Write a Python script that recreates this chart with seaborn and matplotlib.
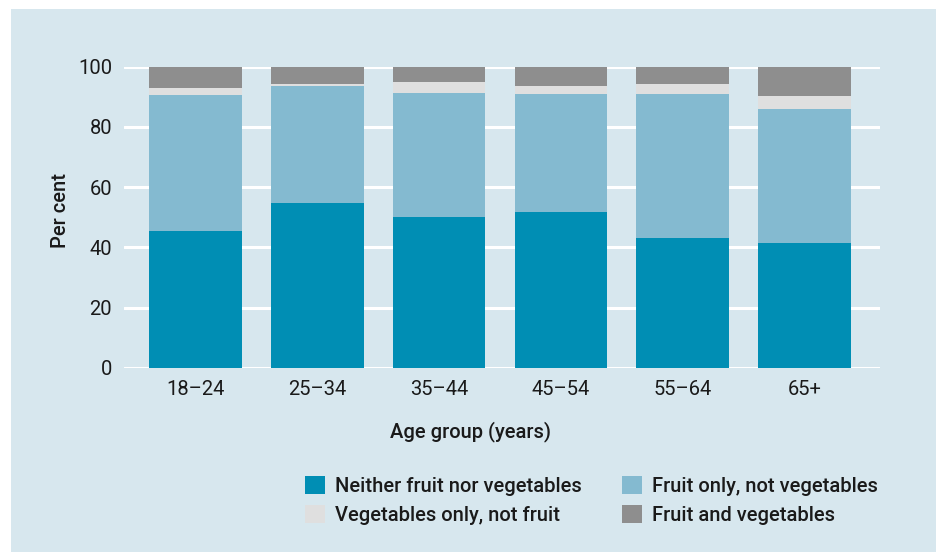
import numpy as np
import pandas as pd
import matplotlib
matplotlib.use('Agg')
import matplotlib.pyplot as plt
import seaborn as sns
from matplotlib.patches import Patch, Rectangle

# values (per cent of each age group)
age_groups = ['18–24', '25–34', '35–44', '45–54', '55–64', '65+']
neither = [45.4, 54.7, 50.1, 51.7, 43.1, 41.4]
fruit_only = [45.2, 38.9, 41.2, 39.2, 47.8, 44.5]
veg_only = [2.3, 0.7, 3.6, 2.7, 3.4, 4.4]
fruit_and_veg = [7.1, 5.7, 5.1, 6.4, 5.7, 9.7]

series_names = ['Neither fruit nor vegetables', 'Fruit only, not vegetables',
                'Vegetables only, not fruit', 'Fruit and vegetables']
series_colors = ['#008eb4', '#84bad0', '#dfdfdf', '#8e8e8e']
panel_color = '#d7e7ee'

sns.set_theme(style='white')
plt.rcParams['font.family'] = ['Roboto', 'DejaVu Sans']
plt.rcParams['text.color'] = '#1a1a1a'
plt.rcParams['xtick.color'] = '#1a1a1a'
plt.rcParams['ytick.color'] = '#1a1a1a'
plt.rcParams['axes.labelcolor'] = '#1a1a1a'

df = pd.DataFrame({'age': age_groups, 'neither': neither, 'fruit_only': fruit_only,
                   'veg_only': veg_only, 'fruit_and_veg': fruit_and_veg})
layers = ['neither', 'fruit_only', 'veg_only', 'fruit_and_veg']
stacked = df[layers].cumsum(axis=1)

fig = plt.figure(figsize=(9.44, 5.52), dpi=100)
fig.patches.append(Rectangle((11 / 944, 0), 925 / 944, 543 / 552, transform=fig.transFigure,
                             facecolor=panel_color, edgecolor='none', zorder=-5))
ax = fig.add_axes([124 / 944, 1 - 367.7 / 552, 756 / 944, 301 / 552])
ax.set_facecolor('none')

# stacked bars: draw the tallest (cumulative) layer first, then cover it
for layer, color in reversed(list(zip(layers, series_colors))):
    sns.barplot(x=df['age'], y=stacked[layer], order=age_groups, color=color,
                saturation=1, width=0.76, errorbar=None, ax=ax, zorder=3,
                edgecolor='none', linewidth=0)

ax.set_xlim(-0.587, 5.62)
ax.set_ylim(0, 100)
ax.set_yticks([0, 20, 40, 60, 80, 100])
ax.yaxis.grid(True, color='white', lw=2.2, zorder=1)
ax.set_axisbelow(True)
sns.despine(ax=ax, left=True, bottom=True)
ax.tick_params(axis='both', length=0, pad=8.6, labelsize=14.5)

ax.set_ylabel('Per cent', fontsize=14.5, fontweight='medium')
ax.yaxis.set_label_coords(-0.072, 0.523)
ax.set_xlabel('Age group (years)', fontsize=14.5, fontweight='medium')
ax.xaxis.set_label_coords(0.458, -0.178)

handles = [Patch(facecolor=c, edgecolor='none') for c in series_colors]
order = [0, 2, 1, 3]
fig.legend([handles[i] for i in order], [series_names[i] for i in order],
           loc='upper left', bbox_to_anchor=(305 / 944, 1 - 476 / 552), ncol=2,
           frameon=False, prop={'size': 14.5, 'weight': 'medium'},
           handlelength=1.0, handleheight=1.0, borderaxespad=0,
           handletextpad=0.5, columnspacing=2.0, labelspacing=0.45, borderpad=0)

fig.savefig('out.png', dpi=100, facecolor='white')
